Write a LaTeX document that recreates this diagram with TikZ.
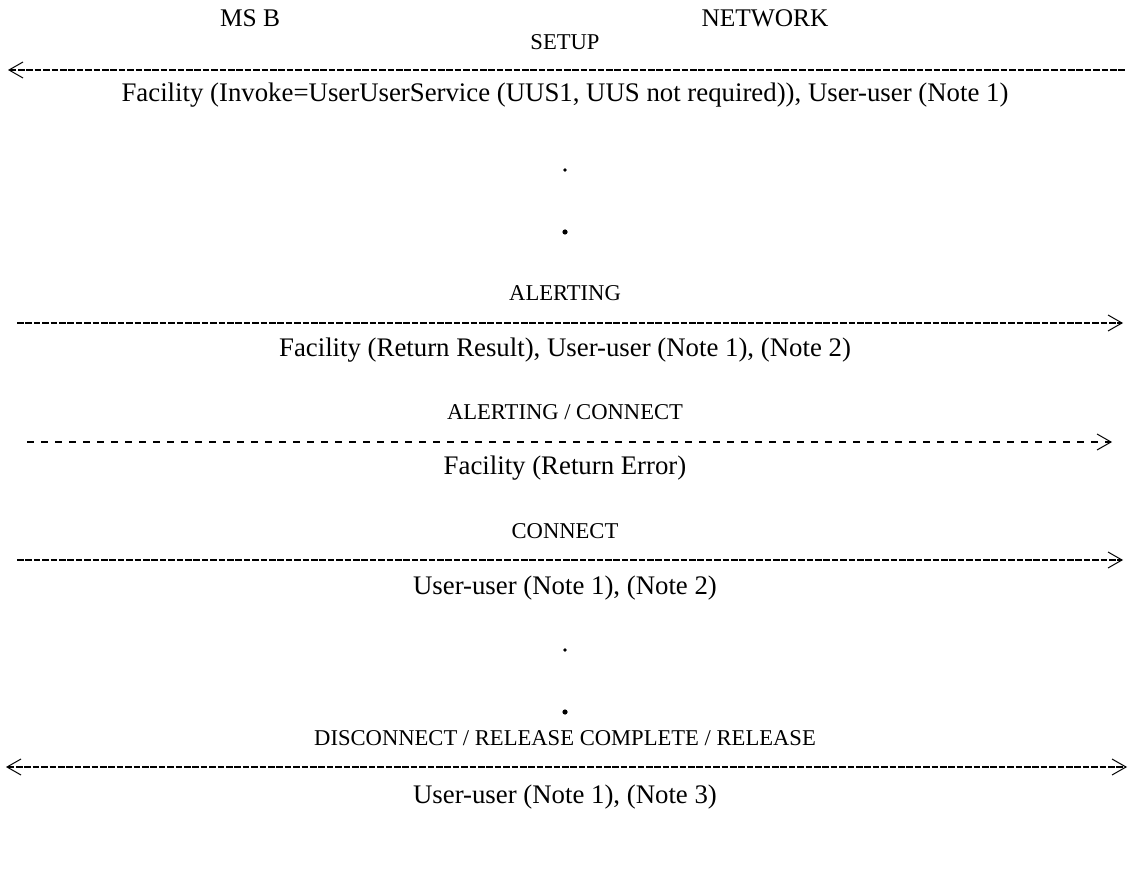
\documentclass[tikz,border=0pt]{standalone}
\usepackage{fontspec}
\setmainfont{Liberation Serif}
\usetikzlibrary{arrows.meta}

\tikzset{
  ascii/.tip={Straight Barb[length=7pt,width=8pt,line width=.5pt]},
  msg/.style={line width=.55pt,dash pattern=on 3.3pt off .9pt},
  msgopt/.style={line width=.55pt,dash pattern=on 3.3pt off 3.7pt},
  lbl/.style={inner sep=0pt,font=\fontsize{11.3}{13}\selectfont},
  par/.style={inner sep=0pt,font=\fontsize{13.4}{15}\selectfont},
  ent/.style={inner sep=0pt,font=\fontsize{12.7}{14}\selectfont}
}

\begin{document}
\begin{tikzpicture}[x=0.5pt,y={(0pt,-0.5pt)}]
  \useasboundingbox (0,0) rectangle (1129,876);

  % entities
  \node[ent] (msb) at (250,18) {MS B};
  \node[ent] (net) at (765,18) {NETWORK};

  % message names
  \foreach \y/\n/\t in {42/setup/SETUP, 293/alert/ALERTING,
      412/altcon/{ALERTING / CONNECT}, 531/conn/CONNECT,
      738/disc/{DISCONNECT / RELEASE COMPLETE / RELEASE}} {
    \node[lbl] (\n) at (565,\y) {\t};
  }

  % message parameters
  \foreach \y/\n/\t in {
      95/par1/{Facility (Invoke=UserUserService (UUS1, UUS not required)), User-user (Note 1)},
      350/par2/{Facility (Return Result), User-user (Note 1), (Note 2)},
      468/par3/{Facility (Return Error)},
      588/par4/{User-user (Note 1), (Note 2)},
      797/par5/{User-user (Note 1), (Note 3)}} {
    \node[par] (\n) at (565,\y) {\t};
  }

  % arrow ends
  \coordinate (s1) at (8,70);    \coordinate (e1) at (1126,70);
  \coordinate (s2) at (17,323);  \coordinate (e2) at (1123,323);
  \coordinate (s3) at (27,442);  \coordinate (e3) at (1112,442);
  \coordinate (s4) at (17,560);  \coordinate (e4) at (1123,560);
  \coordinate (s5) at (6,767);   \coordinate (e5) at (1127,767);

  \draw[msg,ascii-] (s1) -- (e1);
  \draw[msg,-ascii] (s2) -- (e2);
  \draw[msgopt,-ascii] (s3) -- (e3);
  \draw[msg,-ascii] (s4) -- (e4);
  \draw[msg,ascii-ascii] (s5) -- (e5);

  % dots
  \foreach \y/\r in {170/.9,232/1.3,650/.9,712/1.3}
    \fill (565,\y) circle (\r pt);
\end{tikzpicture}
\end{document}
